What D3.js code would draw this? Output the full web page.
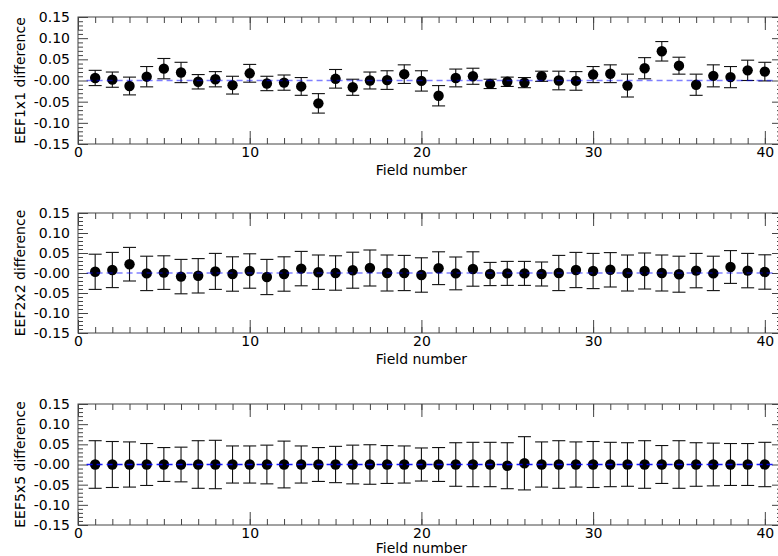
<!DOCTYPE html>
<html>
<head>
<meta charset="utf-8">
<script src="https://cdn.jsdelivr.net/npm/d3@7"></script>
<style>
  body { margin: 0; background: #fff; }
  svg text { font-family: "DejaVu Sans", sans-serif; }
</style>
</head>
<body>
<div class="chart"></div>
<script>
// field numbers along x
const fields = [1,2,3,4,5,6,7,8,9,10,11,12,13,14,15,16,17,18,19,20,
                21,22,23,24,25,26,27,28,29,30,31,32,33,34,35,36,37,38,39,40];

const eef1Diff = [0.006,0.002,-0.013,0.009,0.028,0.019,-0.003,0.003,-0.011,0.017,
                  -0.007,-0.005,-0.014,-0.054,0.004,-0.016,0.000,0.001,0.015,-0.001,
                  -0.036,0.006,0.010,-0.008,-0.003,-0.005,0.010,0.000,-0.001,0.014,
                  0.016,-0.012,0.029,0.069,0.035,-0.010,0.011,0.008,0.024,0.021];
const eef1Err = [0.018,0.018,0.021,0.024,0.024,0.024,0.017,0.018,0.021,0.021,
                 0.017,0.018,0.021,0.023,0.022,0.019,0.020,0.022,0.022,0.024,
                 0.024,0.021,0.019,0.011,0.011,0.012,0.012,0.022,0.022,0.019,
                 0.021,0.027,0.025,0.023,0.020,0.025,0.026,0.025,0.024,0.022];

const eef2Diff = [0.003,0.0075,0.022,-0.001,0.001,-0.009,-0.007,0.004,-0.0025,0.005,
                  -0.010,-0.0025,0.011,0.002,0.000,0.007,0.0125,0.000,0.000,-0.005,
                  0.012,-0.001,0.010,-0.0025,-0.001,-0.001,-0.0025,0.000,0.0075,0.005,
                  0.008,0.000,0.005,0.000,-0.003,0.006,-0.001,0.015,0.006,0.0025];
const eef2Err = [0.044,0.044,0.042,0.043,0.042,0.043,0.043,0.045,0.043,0.043,
                 0.044,0.043,0.043,0.043,0.043,0.045,0.045,0.045,0.044,0.043,
                 0.041,0.041,0.043,0.029,0.030,0.030,0.030,0.044,0.044,0.044,
                 0.043,0.045,0.045,0.045,0.045,0.043,0.043,0.041,0.043,0.043];

const eef5Diff = [0,0,0,0,0,0,0,0,0,0,
                  0,0,0,0,0,0,0,0,0,0,
                  0,0,0,0,-0.003,0.003,0,0,0,0,
                  0,0,0,0,0,0,0,0,0,0];
const eef5Err = [0.059,0.057,0.056,0.052,0.042,0.043,0.059,0.060,0.046,0.046,
                 0.048,0.058,0.046,0.042,0.045,0.048,0.049,0.047,0.046,0.041,
                 0.042,0.054,0.055,0.055,0.057,0.066,0.056,0.059,0.056,0.057,
                 0.055,0.054,0.059,0.047,0.059,0.054,0.053,0.052,0.052,0.055];

const yTicks = [0.15,0.10,0.05,0,-0.05,-0.10,-0.15];
const yTickLabels = ["0.15","0.10","0.05","-0.00","-0.05","-0.10","-0.15"];
const yMinor = [-0.14,-0.13,-0.12,-0.11,-0.09,-0.08,-0.07,-0.06,-0.04,-0.03,-0.02,-0.01,
                0.01,0.02,0.03,0.04,0.06,0.07,0.08,0.09,0.11,0.12,0.13,0.14];
const xTicks = [0,10,20,30,40];

const panels = [
  {label:"EEF1x1 difference", diff:eef1Diff, err:eef1Err, top:17, bottom:144, lineOpacity:0.5, titleGap:31},
  {label:"EEF2x2 difference", diff:eef2Diff, err:eef2Err, top:213, bottom:333, lineOpacity:0.5, titleGap:31},
  {label:"EEF5x5 difference", diff:eef5Diff, err:eef5Err, top:404, bottom:525, lineOpacity:0.9, titleGap:28}
];

const W = 778, H = 556;
const left = 78, right = 782;
const axisColor = "#444";

const svg = d3.select('.chart').append('svg')
  .attr("width", W)
  .attr("height", H);

const x = d3.scaleLinear().domain([0, 41]).range([left, right]);

panels.forEach(p => {
  const y = d3.scaleLinear().domain([-0.15, 0.15]).range([p.bottom, p.top]);
  const g = svg.append("g");

  // minor ticks
  g.append("g").attr("transform", `translate(${left},0)`)
    .call(d3.axisLeft(y).tickValues(yMinor).tickSize(-5).tickFormat(""));
  g.append("g").attr("transform", `translate(${right},0)`)
    .call(d3.axisRight(y).tickValues(yMinor).tickSize(-5).tickFormat(""));
  g.append("g").attr("transform", `translate(0,${p.bottom})`)
    .call(d3.axisBottom(x).tickValues(fields).tickSize(-6).tickFormat(""));
  g.append("g").attr("transform", `translate(0,${p.top})`)
    .call(d3.axisTop(x).tickValues(fields).tickSize(-6).tickFormat(""));

  // major ticks
  g.append("g").attr("class", "yaxis").attr("transform", `translate(${left},0)`)
    .call(d3.axisLeft(y).tickValues(yTicks).tickSize(-10).tickPadding(8)
      .tickFormat((d, i) => yTickLabels[i]));
  g.append("g").attr("transform", `translate(${right},0)`)
    .call(d3.axisRight(y).tickValues(yTicks).tickSize(-10).tickFormat(""));
  g.append("g").attr("class", "xaxis").attr("transform", `translate(0,${p.bottom})`)
    .call(d3.axisBottom(x).tickValues(xTicks).tickSize(-13).tickPadding(3).tickFormat(d3.format("d")));
  g.append("g").attr("transform", `translate(0,${p.top})`)
    .call(d3.axisTop(x).tickValues(xTicks).tickSize(-13).tickFormat(""));

  g.selectAll(".domain").remove();
  g.selectAll(".tick line").attr("stroke", axisColor);
  g.selectAll(".tick text").attr("font-size", 14).attr("fill", "#000");

  // frame
  g.append("rect")
    .attr("x", left).attr("y", p.top)
    .attr("width", right - left).attr("height", p.bottom - p.top)
    .attr("fill", "none").attr("stroke", axisColor);

  // error bars
  const pts = fields.map((f, i) => ({f, v: p.diff[i], e: p.err[i]}));
  const eb = g.append("g").attr("stroke", "#111").attr("stroke-width", 1.1);
  eb.selectAll(".bar").data(pts).enter().append("line")
    .attr("x1", d => x(d.f)).attr("x2", d => x(d.f))
    .attr("y1", d => y(d.v + d.e)).attr("y2", d => y(d.v - d.e));
  eb.selectAll(".capTop").data(pts).enter().append("line")
    .attr("x1", d => x(d.f) - 6.5).attr("x2", d => x(d.f) + 6.5)
    .attr("y1", d => y(d.v + d.e)).attr("y2", d => y(d.v + d.e));
  eb.selectAll(".capBot").data(pts).enter().append("line")
    .attr("x1", d => x(d.f) - 6.5).attr("x2", d => x(d.f) + 6.5)
    .attr("y1", d => y(d.v - d.e)).attr("y2", d => y(d.v - d.e));

  // points
  g.selectAll("circle").data(pts).enter().append("circle")
    .attr("cx", d => x(d.f)).attr("cy", d => y(d.v))
    .attr("r", 5.2).attr("fill", "#000");

  // zero line, drawn over the points
  g.append("line")
    .attr("x1", x(0.5)).attr("x2", x(40.5))
    .attr("y1", y(0)).attr("y2", y(0))
    .attr("stroke", "#0000ff").attr("stroke-opacity", p.lineOpacity)
    .attr("stroke-width", 1.5).attr("stroke-dasharray", "6,4");

  // labels
  g.append("text")
    .attr("x", (x(0) + x(40)) / 2).attr("y", p.bottom + p.titleGap)
    .attr("text-anchor", "middle").attr("font-size", 14)
    .text("Field number");
  g.append("text")
    .attr("transform", `translate(25,${(p.top + p.bottom) / 2}) rotate(-90)`)
    .attr("text-anchor", "middle").attr("font-size", 14)
    .text(p.label);
});
</script>
</body>
</html>
